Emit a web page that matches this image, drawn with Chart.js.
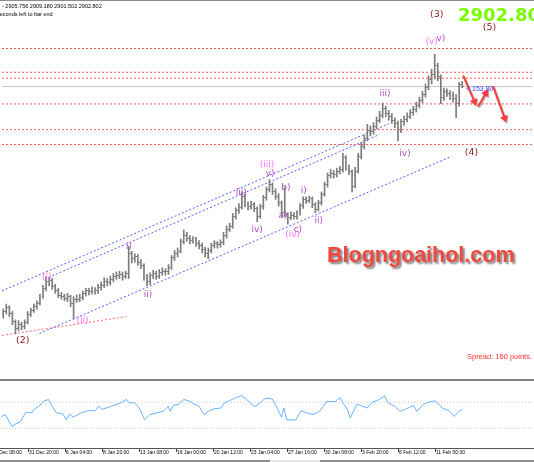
<!DOCTYPE html>
<html><head><meta charset="utf-8">
<script src="https://cdn.jsdelivr.net/npm/chart.js@4.4.1/dist/chart.umd.min.js"></script>
<style>
html,body{margin:0;padding:0;background:#fff;}
body{width:534px;height:462px;overflow:hidden;position:relative;font-family:"Liberation Sans",Arial,sans-serif;}
canvas{position:absolute;left:0;display:block}
.t{position:absolute;white-space:nowrap;}
.r{position:absolute;}
</style></head><body>
<canvas id="main" width="534" height="379" style="top:0"></canvas>
<canvas id="rsi" width="534" height="81" style="top:381px"></canvas>
<div class="r" style="left:0;top:0;width:534px;height:1px;background:#8c8c8c"></div>
<div class="r" style="left:0;top:379px;width:534px;height:2px;background:#808080"></div>
<div class="r" style="left:0;top:460px;width:534px;height:2px;background:#8c8c8c"></div>
<div class="r" style="left:270px;top:460px;width:50px;height:2px;background:#e4e4e4"></div>
<div class="t" style="left:2px;top:3px;font-size:5.5px;line-height:6px;color:#000">- 2905.756 2909.180 2901.502 2902.802</div>
<div class="t" style="left:-3px;top:10.7px;font-size:5.5px;line-height:6px;color:#000">seconds left to bar end</div>
<div class="t" style="left:458px;top:5.5px;font:bold 18px/18px 'DejaVu Sans',sans-serif;color:#7cfc00">2902.80</div>
<div class="t" style="left:327px;top:244.8px;font:bold 21.5px/21.5px 'Liberation Sans',Arial,sans-serif;color:#f0483c;text-shadow:2px 2px 2px rgba(90,90,90,.75)">Blogngoaihol.com</div>
<div class="t" style="right:2px;top:353px;font-size:7.5px;line-height:8px;color:#ff3030">Spread: 160 points.</div>
<div class="t" style="left:466px;top:85.3px;font-size:7px;line-height:7px;color:#3c3cff">&lt; 153.80</div>
<script>
// ---------- DATA ----------
const tickIdx = [-3, 9, 21, 33, 45, 57, 69, 81, 93, 105, 117, 129, 141];
const tickText = ['27 Dec 08:00','31 Dec 20:00','6 Jan 04:00','8 Jan 20:00','13 Jan 08:00','16 Jan 00:00','20 Jan 12:00','23 Jan 04:00','27 Jan 16:00','30 Jan 08:00','3 Feb 20:00','6 Feb 12:00','11 Feb 00:00'];

const opens = [2626,2630,2635,2628,2618,2610,2614,2612,2617,2627,
 2631,2636,2640,2648,2658,2666,2668,2660,2656,2650,
 2648,2646,2648,2640,2645,2645,2647,2652,2655,2654,
 2656,2655,2659,2662,2667,2665,2669,2672,2674,2675,
 2673,2676,2700,2694,2697,2690,2686,2672,2666,2674,
 2676,2673,2677,2679,2678,2683,2695,2700,2703,2715,
 2722,2719,2716,2718,2713,2710,2705,2700,2704,2710,
 2712,2711,2714,2722,2730,2733,2745,2752,2756,2770,
 2760,2757,2760,2755,2745,2757,2768,2778,2784,2776,
 2770,2762,2750,2748,2744,2747,2745,2749,2758,2766,
 2765,2767,2760,2754,2762,2772,2784,2795,2798,2796,
 2800,2802,2817,2804,2800,2782,2800,2818,2830,2840,
 2850,2848,2855,2862,2868,2876,2870,2866,2862,2858,
 2850,2860,2863,2867,2871,2875,2880,2886,2893,2902,
 2912,2918,2928,2915,2890,2897,2895,2892,2888,2882,
 2905.76];
const highs = [2633,2639,2637,2630,2620,2619,2617,2620,2630,2634,
 2639,2643,2651,2662,2672,2671,2670,2663,2658,2653,
 2651,2652,2650,2648,2650,2651,2655,2658,2658,2660,
 2659,2663,2666,2671,2670,2673,2676,2678,2679,2678,
 2679,2709,2703,2700,2699,2693,2688,2675,2677,2680,
 2679,2681,2683,2682,2687,2698,2704,2707,2718,2729,
 2726,2722,2721,2720,2716,2713,2708,2707,2713,2716,
 2715,2717,2726,2734,2737,2749,2756,2761,2775,2772,
 2763,2764,2762,2757,2760,2771,2781,2790,2786,2779,
 2773,2764,2781,2750,2751,2750,2752,2761,2769,2769,
 2770,2769,2762,2765,2775,2787,2798,2802,2801,2804,
 2806,2822,2819,2808,2802,2805,2822,2835,2844,2857,
 2855,2859,2866,2873,2883,2879,2874,2870,2865,2861,
 2863,2867,2871,2875,2879,2884,2890,2897,2906,2916,
 2924,2942,2931,2917,2901,2900,2898,2896,2893,2908,
 2909.18];
const lows = [2622,2627,2624,2614,2603,2607,2608,2609,2615,2624,
 2629,2633,2638,2646,2655,2661,2657,2652,2647,2645,
 2643,2642,2636,2621,2641,2642,2644,2649,2650,2651,
 2651,2652,2656,2659,2661,2662,2666,2669,2670,2668,
 2670,2670,2689,2690,2686,2682,2668,2661,2663,2670,
 2669,2670,2674,2674,2675,2681,2692,2696,2701,2712,
 2715,2712,2713,2709,2706,2701,2696,2694,2701,2707,
 2707,2708,2711,2719,2727,2731,2742,2749,2754,2757,
 2753,2754,2751,2739,2743,2754,2765,2775,2772,2766,
 2758,2745,2745,2736,2741,2742,2742,2747,2755,2761,
 2762,2756,2750,2752,2759,2770,2781,2792,2792,2793,
 2797,2799,2801,2796,2775,2780,2798,2815,2827,2837,
 2843,2845,2852,2859,2865,2866,2862,2858,2853,2837,
 2847,2856,2860,2864,2868,2872,2877,2883,2890,2899,
 2906,2912,2910,2882,2886,2891,2887,2884,2865,2879,
 2901.5];
const closes = [2630,2635,2628,2618,2610,2614,2612,2617,2627,2631,
 2636,2640,2648,2658,2666,2668,2660,2656,2650,2648,
 2646,2648,2640,2645,2645,2647,2652,2655,2654,2656,
 2655,2659,2662,2667,2665,2669,2672,2674,2675,2673,
 2676,2700,2694,2697,2690,2686,2672,2666,2674,2676,
 2673,2677,2679,2678,2683,2695,2700,2703,2715,2722,
 2719,2716,2718,2713,2710,2705,2700,2704,2710,2712,
 2711,2714,2722,2730,2733,2745,2752,2756,2770,2760,
 2757,2760,2755,2745,2757,2768,2778,2784,2776,2770,
 2762,2750,2748,2744,2747,2745,2749,2758,2766,2765,
 2767,2760,2754,2762,2772,2784,2795,2798,2796,2800,
 2802,2817,2804,2800,2782,2800,2818,2830,2840,2850,
 2848,2855,2862,2868,2876,2870,2866,2862,2858,2850,
 2860,2863,2867,2871,2875,2880,2886,2893,2902,2912,
 2918,2928,2915,2890,2897,2895,2892,2888,2882,2905.5,
 2902.8];

const levels = [2949, 2920.2, 2913, 2881.8, 2850.6, 2832.6];
const lastPrice = 2902.8;

// trend lines: start (bar index, price) -> end (bar index, price)
const trendI1 = [-0.4, 13.6, 11.9, -0.4];
const trendP1 = [2655, 2669.4, 2603.4, 2601];
const trendI2 = [126.1, 122.9, 146.5, 40.1];
const trendP2 = [2857.8, 2844.6, 2818.2, 2623.8];
const trendKind = ['channel','channel','channel','support'];

// projected arrows
const arrowI1 = [150.4, 155.3, 160.2];
const arrowP1 = [2915.4, 2879.4, 2902.2];
const arrowI2 = [154.6, 158.5, 164.4];
const arrowP2 = [2879.4, 2899.8, 2859];

// wave labels
const waveText  = ['(2)','(i)','(ii)','i)','ii)','iii)','iv)','(iii)','v)','a)','b)','c)','(iv)','i)','ii)','iii)','iv)','(v)','v)','(3)','(4)','(5)'];
const waveIdx   = [6.4,14.2,25.9,41.1,47.3,77.8,83,86.2,87.2,91.4,92.4,96.3,94.6,98.2,103.1,124.8,131.3,140,143,141.7,153,158.9];
const wavePrice = [2595,2670.6,2619,2709,2650,2773.8,2729.4,2808.6,2797.8,2746.2,2779.8,2729.4,2723.4,2776.2,2740.2,2893.8,2821.8,2957.4,2961,2989.8,2823,2974.2];
const waveDeg   = ['P','I','I','M','M','M','M','I','M','M','M','M','I','M','M','M','M','I','M','P','P','P'];

// RSI
const rsiIdx = [0,1.3,3.5,5.1,6.2,7.9,10,10.6,12.3,13.9,15.4,16.1,17.8,20,21.1,22.2,23.3,26.1,28.3,30.5,
 31.6,32.7,35.9,38.8,40.6,41.5,43.2,44.8,46.5,48.2,52.6,54.2,54.8,55.9,57.5,59.2,60.8,62.5,64.1,65.8,
 67.5,69.1,71.3,72.4,73.5,75.7,77.9,79.6,81.2,82.3,83.9,85.7,87.9,89.5,90.9,91.7,92.6,95.6,97.2,98.9,
 101.1,103.3,105.5,108.3,109.9,111,112.1,113.2,115.4,117.6,118.7,120.4,122.6,124.3,125.4,127.6,129.3,132,133.7,134.8,
 137,138.6,140.8,143,145.2,146.9,148,149.6];
const rsiVal = [48,51,33,38,40,54,54,59,64,72,74,67,54,52,43,52,47,54,57,57,
 64,59,64,69,74,69,69,61,43,51,56,64,56,65,67,74,72,67,64,51,
 57,60,61,69,71,76,80,74,67,63,69,76,75,61,47,61,43,43,57,54,
 51,56,71,71,77,67,61,46,67,63,61,70,74,80,69,64,56,61,65,56,
 67,70,72,61,57,48,54,59];
const rsiLevels = [70, 30];

// ---------- STYLE ----------
const X_MIN = -0.4, X_MAX = 172.8;
const Y_MIN = 2550.6, Y_MAX = 3005.4;
const BAR = '#7c7c7c';
const ARROW = '#ff3b3b';
const WAVE_COLORS = {P:'#8b2525', I:'#ff70ff', M:'#b24fc2'};
const TREND_COLORS = {channel:'#5c5cff', support:'#ff6a6a'};

function tickImg(side){
  const c = document.createElement('canvas'); c.width = 3; c.height = 1;
  const g = c.getContext('2d'); g.fillStyle = BAR;
  g.fillRect(side < 0 ? 0 : 2, 0, 1, 1);
  return c;
}
const openImg = tickImg(-1), closeImg = tickImg(1);

function drawArrow(ctx, x1, y1, x2, y2){
  const a = Math.atan2(y2 - y1, x2 - x1), L = 7, W = 4;
  const bx = x2 - L*0.7*Math.cos(a), by = y2 - L*0.7*Math.sin(a);
  ctx.beginPath(); ctx.moveTo(x1, y1); ctx.lineTo(bx, by); ctx.stroke();
  ctx.beginPath(); ctx.moveTo(x2, y2);
  ctx.lineTo(x2 - L*Math.cos(a) + W*Math.sin(a), y2 - L*Math.sin(a) - W*Math.cos(a));
  ctx.lineTo(x2 - L*Math.cos(a) - W*Math.sin(a), y2 - L*Math.sin(a) + W*Math.cos(a));
  ctx.closePath(); ctx.fill();
}

const overlay = {
  id: 'overlay',
  afterDatasetsDraw(chart){
    const ctx = chart.ctx, xs = chart.scales.x, ys = chart.scales.y;
    ctx.save();
    ctx.strokeStyle = ARROW; ctx.fillStyle = ARROW; ctx.lineWidth = 2; ctx.lineCap = 'round';
    ctx.shadowColor = 'rgba(0,0,0,0.3)'; ctx.shadowOffsetX = 1; ctx.shadowOffsetY = 1; ctx.shadowBlur = 1;
    for (let k = 0; k < arrowI1.length; k++) {
      drawArrow(ctx, xs.getPixelForValue(arrowI1[k]), ys.getPixelForValue(arrowP1[k]),
                     xs.getPixelForValue(arrowI2[k]), ys.getPixelForValue(arrowP2[k]));
    }
    ctx.shadowColor = 'transparent';
    ctx.textAlign = 'center'; ctx.textBaseline = 'middle';
    for (let k = 0; k < waveText.length; k++) {
      ctx.font = (waveDeg[k] === 'P' ? '9.5px' : '9px') + ' "DejaVu Sans", sans-serif';
      ctx.fillStyle = WAVE_COLORS[waveDeg[k]];
      ctx.fillText(waveText[k], xs.getPixelForValue(waveIdx[k]), ys.getPixelForValue(wavePrice[k]));
    }
    ctx.restore();
  }
};

const mainDatasets = [
  {type:'bar', data: highs.map((h,i)=>({x:i, y:[lows[i], h]})), backgroundColor: BAR, borderWidth:0, barThickness:1, grouped:false, order:0},
  {type:'scatter', data: opens.map((o,i)=>({x:i, y:o})), pointStyle: openImg, pointRadius:1, pointHoverRadius:1, order:0},
  {type:'scatter', data: closes.map((c,i)=>({x:i, y:c})), pointStyle: closeImg, pointRadius:1, pointHoverRadius:1, order:0},
  {type:'line', data:[{x:X_MIN,y:lastPrice},{x:X_MAX,y:lastPrice}], borderColor:'#c4c4c4', borderWidth:1, pointRadius:0, order:3},
  ...levels.map(v => ({type:'line', data:[{x:X_MIN,y:v},{x:X_MAX,y:v}], borderColor:'#ff5a5a', borderWidth:1, borderDash:[2,2], pointRadius:0, order:2})),
  ...trendI1.map((v,k) => ({type:'line', data:[{x:v,y:trendP1[k]},{x:trendI2[k],y:trendP2[k]}], borderColor: TREND_COLORS[trendKind[k]], borderWidth:1, borderDash:[2,2], pointRadius:0, order:2}))
];

new Chart(document.getElementById('main'), {
  type: 'bar',
  data: {datasets: mainDatasets},
  options: {
    responsive:false, maintainAspectRatio:false, animation:false, events:[],
    layout:{padding:0},
    plugins:{legend:{display:false}, tooltip:{enabled:false}},
    scales:{
      x:{type:'linear', min:X_MIN, max:X_MAX, display:false, offset:false},
      y:{type:'linear', min:Y_MIN, max:Y_MAX, display:false, beginAtZero:false}
    }
  },
  plugins:[overlay]
});

new Chart(document.getElementById('rsi'), {
  type: 'line',
  data: {datasets: [
    {data: rsiIdx.map((v,i)=>({x:v, y:rsiVal[i]})), borderColor:'#66b4ff', borderWidth:1, pointRadius:0, tension:0, order:0},
    ...rsiLevels.map(v => ({data:[{x:X_MIN,y:v},{x:X_MAX,y:v}], borderColor:'#c8c8c8', borderWidth:1, borderDash:[1,2], pointRadius:0, order:1}))
  ]},
  options: {
    responsive:false, maintainAspectRatio:false, animation:false, events:[],
    layout:{padding:{top:1.5, bottom:8, left:0, right:0}},
    plugins:{legend:{display:false}, tooltip:{enabled:false}},
    scales:{
      x:{type:'linear', min:X_MIN, max:X_MAX, offset:false,
         afterBuildTicks: s => { s.ticks = tickIdx.map(v => ({value:v})); },
         afterFit: s => { s.paddingLeft = 0; s.paddingRight = 0; },
         ticks:{autoSkip:false, maxRotation:0, minRotation:0, align:'start', padding:-2, color:'#000',
                font:{family:'"Liberation Sans", Arial, sans-serif', size:5},
                callback:(v, idx) => tickText[idx]},
         grid:{drawOnChartArea:false, drawTicks:true, tickLength:4, tickColor:'#444', tickWidth:1},
         border:{display:true, color:'#555', width:1}},
      y:{type:'linear', min:0, max:100, display:false}
    }
  }
});
</script>
</body></html>
